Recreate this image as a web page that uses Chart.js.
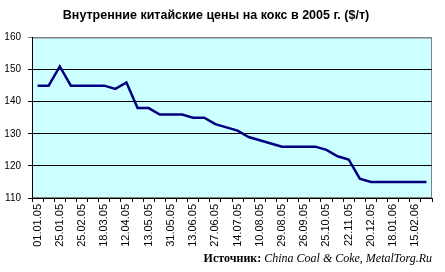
<!DOCTYPE html>
<html>
<head>
<meta charset="utf-8">
<script src="https://cdn.jsdelivr.net/npm/chart.js@4"></script>
<style>
  html, body { margin: 0; padding: 0; background: #fff; }
  #wrap { position: relative; width: 445px; height: 272px; }
  #source {
    position: absolute; right: 13px; top: 251px;
    font-family: "Liberation Serif", serif; font-size: 12px; color: #000;
    white-space: nowrap;
  }
</style>
</head>
<body>
<div id="wrap">
  <canvas id="grafico" width="445" height="272"></canvas>
  <div id="source"><b>Источник:</b> <i>China Coal &amp; Coke, MetalTorg.Ru</i></div>
</div>
<script>
// даты (подписана каждая вторая категория)
const datas = [
    '01.01.05', '', '25.01.05', '', '25.02.05', '', '18.03.05', '', '12.04.05', '',
    '13.05.05', '', '31.05.05', '', '13.06.05', '', '27.06.05', '', '14.07.05', '',
    '10.08.05', '', '29.08.05', '', '26.09.05', '', '25.10.05', '', '22.11.05', '',
    '20.12.05', '', '18.01.06', '', '15.02.06', ''
];
// цены на кокс, $/т
const precos = [
    145, 145, 151, 145, 145, 145, 145, 144, 146, 138,
    138, 136, 136, 136, 135, 135, 133, 132, 131, 129,
    128, 127, 126, 126, 126, 126, 125, 123, 122, 116,
    115, 115, 115, 115, 115, 115
];
const eixoY = [110, 120, 130, 140, 150, 160];

const fundo = {
    id: 'fundo',
    beforeDraw(chart) {
        const { ctx, chartArea: a } = chart;
        ctx.save();
        ctx.fillStyle = '#ccffff';
        ctx.fillRect(a.left, a.top, a.right - a.left, a.bottom - a.top);
        ctx.strokeStyle = '#808080';
        ctx.lineWidth = 1;
        ctx.strokeRect(a.left + 0.5, a.top + 0.5, a.right - a.left - 1, a.bottom - a.top - 1);
        ctx.restore();
    }
};

const ctx = document.getElementById('grafico').getContext('2d');

new Chart(ctx, {
    type: 'line',
    data: {
        labels: datas,
        datasets: [{
            data: precos,
            borderColor: '#000080',
            borderWidth: 2.5,
            pointRadius: 0,
            tension: 0,
            fill: false
        }]
    },
    options: {
        responsive: false,
        animation: false,
        layout: { padding: { left: 0, right: 13, top: 0, bottom: 0 } },
        plugins: {
            legend: { display: false },
            tooltip: { enabled: false },
            title: {
                display: true,
                text: 'Внутренние китайские цены на кокс в 2005 г. ($/т)',
                color: '#000',
                font: { family: 'Liberation Sans, Arial', size: 12.5, weight: 'bold' },
                padding: { top: 8, bottom: 14.5 }
            }
        },
        scales: {
            x: {
                offset: true,
                afterFit: s => { s.height = 74; },
                border: { color: '#000', width: 1 },
                grid: {
                    offset: true,
                    drawOnChartArea: false,
                    drawTicks: true,
                    tickLength: 4,
                    color: '#000'
                },
                ticks: {
                    autoSkip: false,
                    minRotation: 90,
                    maxRotation: 90,
                    padding: 2,
                    color: '#000',
                    font: { family: 'Liberation Sans, Arial', size: 11 }
                }
            },
            y: {
                min: eixoY[0],
                max: eixoY[eixoY.length - 1],
                afterFit: s => { s.width = 32; },
                afterBuildTicks: s => { s.ticks = eixoY.map(v => ({ value: v })); },
                border: { color: '#000', width: 1 },
                grid: {
                    color: c => c.tick && c.tick.value === 160 ? '#808080' : '#000',
                    tickLength: 4
                },
                ticks: {
                    padding: 7,
                    color: '#000',
                    font: { family: 'Liberation Sans, Arial', size: 10 }
                }
            }
        }
    },
    plugins: [fundo]
});
</script>
</body>
</html>
